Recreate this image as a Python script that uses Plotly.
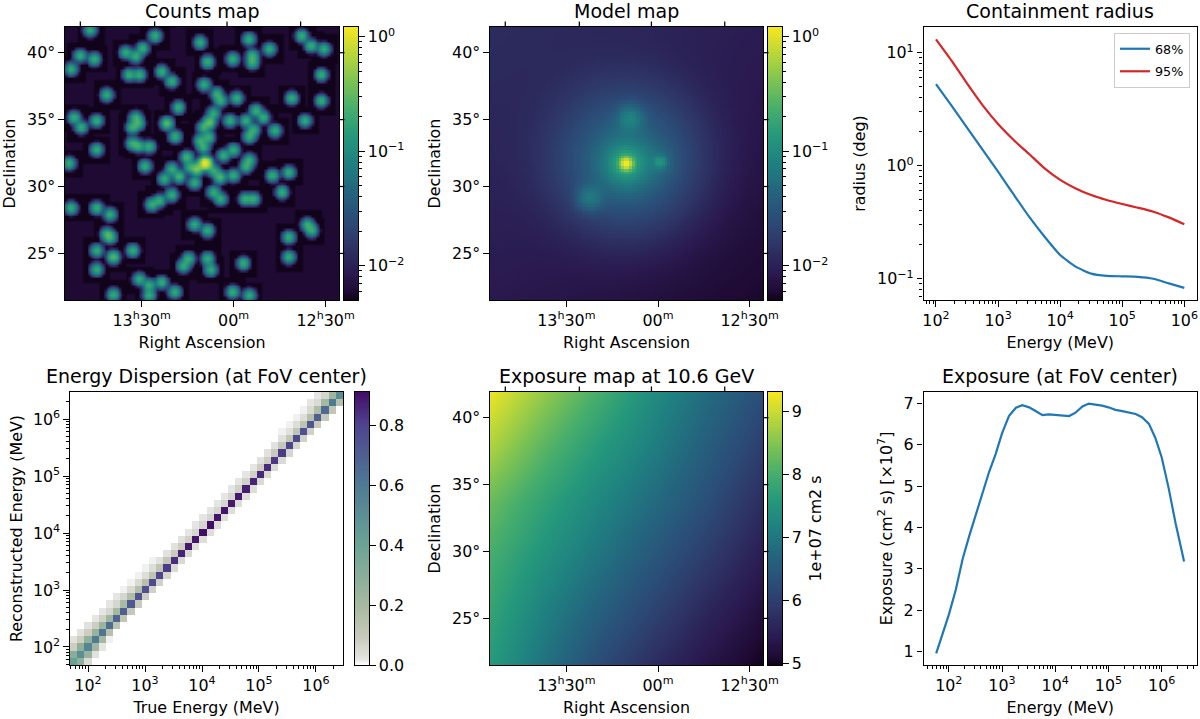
import numpy as np
import plotly.graph_objects as go

# ---------- data ----------
# counts map: source positions (RA deg, Dec deg) and peak counts
SRC_RA = [206.74,201.44,197.77,193.78,189.48,188.72,187.66,192.12,207.55,206.39,208.29,203.83,203.02,202.45,197.17,195.11,
193.51,193.51,187.88,203.56,202.72,200.90,200.08,197.45,205.38,196.41,196.09,194.78,190.30,187.88,199.54,208.04,207.47,206.20,
203.02,202.80,203.29,200.49,196.68,197.01,197.50,195.33,194.02,193.21,192.61,189.21,191.66,193.42,193.75,199.81,
203.29,202.80,201.93,206.20,197.09,197.77,197.50,195.05,195.87,208.45,202.26,198.86,197.36,198.04,198.59,
200.08,199.48,200.68,198.23,196.68,196.14,195.05,193.75,194.02,191.87,190.54,191.09,196.68,196.09,194.10,193.42,
200.08,201.09,201.71,208.29,206.20,205.11,198.23,197.17,205.38,205.11,189.02,188.67,190.54,206.20,203.26,204.84,190.54,
198.72,199.13,197.17,196.90,194.24,206.20,202.74,201.93,201.93,200.90,199.84,204.84,195.11,193.75]
SRC_DEC = [41.72,41.29,40.80,41.04,41.29,40.55,40.30,40.30,39.80,39.55,38.81,40.05,39.75,40.35,39.35,39.55,
39.80,39.30,38.38,38.38,38.38,38.63,37.89,37.64,36.87,36.94,36.44,36.64,36.64,36.44,35.95,35.20,34.45,34.95,
35.20,34.75,34.45,34.75,35.50,34.83,34.45,34.95,34.95,35.70,35.20,34.95,34.20,34.25,33.76,33.76,
33.26,33.06,33.01,32.79,33.71,33.46,32.96,32.76,32.34,31.77,31.54,32.21,31.77,31.34,31.47,
31.34,30.77,30.60,30.30,31.22,30.72,30.85,32.01,31.52,30.85,31.09,29.60,29.60,29.10,29.10,29.10,
29.40,28.98,28.68,28.43,28.43,27.94,27.19,26.74,26.49,26.24,27.19,26.74,26.24,25.25,25.25,24.75,24.75,
24.63,24.08,24.63,23.81,24.30,23.83,23.11,22.64,21.89,22.86,22.14,21.94,22.14,21.89]
SRC_AMP = [.2]*len(SRC_RA)
SRC_BRIGHT = {(200.49,34.75):.30,(197.01,34.83):.32,(198.86,32.21):.24,(197.36,31.77):1.15,(198.04,31.34):.40,
              (198.59,31.47):.18,(199.48,30.77):.24,(196.14,30.72):.27,(204.84,24.75):.28}
# model map: (RA, Dec, peak, width deg)
MODEL_RA = [197.61,197.61,197.61,197.28,194.84,194.84,200.60,197.50]
MODEL_DEC = [31.72,31.72,31.72,35.10,31.84,31.84,29.18,32.00]
MODEL_AMP = [1.15,.14,.06,.05,.065,.012,.04,.035]
MODEL_WID = [.26,.60,1.30,.62,.30,.80,.62,3.2]
MODEL_BG = [[.0125,.0090],[.0085,.0056]]  # [top-left, top-right],[bottom-left, bottom-right]

RA_TICKS = [202.5,195.0,187.5]
RA_LABELS = ["13<sup>h</sup>30<sup>m</sup>","00<sup>m</sup>","12<sup>h</sup>30<sup>m</sup>"]
RA_TOP = [207.5,201.44,195.54,189.54]
DEC_TICKS = [25,30,35,40]
DEC_LABELS = ["25°","30°","35°","40°"]
RA_RANGE = [208.75,186.41]
DEC_RANGE = [21.52,41.92]

# containment radius
E_PSF = [100,178,316,562,1000,1780,3160,5620,1e4,1.78e4,3.16e4,5.62e4,1e5,1.78e5,3.16e5,5.62e5,1e6]
R68 = [5.28,3.40,2.17,1.39,.885,.557,.354,.235,.162,.128,.111,.106,.105,.104,.100,.091,.083]
R95 = [13.1,8.5,5.35,3.44,2.34,1.69,1.27,.947,.75,.63,.55,.497,.458,.425,.392,.349,.303]

# energy dispersion, per true-energy bin
ED_DIAG = [.42,.50,.55,.60,.62,.65,.68,.70,.72,.74,.76,.78,.80,.82,.85,.87,.89,.90,.91,.91,.90,.90,.89,.89,.88,.87,.86,.85,.83,.82,.80,.78,.76,.73,.70,.66,.60,.50]
ED_UP1 = [.30,.28,.27,.25,.24,.22,.20,.19,.17,.16,.15,.13,.12,.11,.09,.08,.07,.06,.06,.06,.06,.06,.06,.07,.07,.07,.08,.08,.09,.10,.11,.12,.13,.15,.17,.20,.22]
ED_UP2 = [.08,.08,.08,.08,.07,.06,.06,.06,.05,.05,.04,.04,.03,.03,.03,.03,.02,.02,.02,.02,.02,.02,.02,.02,.02,.02,.03,.03,.03,.03,.03,.04,.04,.05,.05,.06]
ED_UP3 = [.03,.03,.03,.02,.02,.02,.02,.01,.01,.01,.01,.01,0,0,0,0,0,0,0,0,0,0,0,0,0,0,0,0,0,.01,.01,.01,.01,.02,.02]
ED_LO1 = [.28,.25,.22,.20,.15,.13,.12,.10,.09,.08,.07,.07,.06,.05,.05,.05,.04,.04,.04,.04,.04,.04,.04,.04,.04,.05,.05,.05,.05,.06,.06,.07,.07,.09,.10,.12,.15]
ED_LO2 = [.05,.03,.02,.01]
ED_EDGES_LOG = (1.684,6.474)

# exposure map (1e7 cm2 s), rows top to bottom, columns left to right
EXPO = [[9.25,8.60,8.00,7.35,6.80,6.30],
        [8.80,8.15,7.60,7.10,6.55,6.00],
        [8.30,7.75,7.25,6.80,6.30,5.70],
        [8.00,7.45,6.95,6.45,5.95,5.45],
        [7.80,7.15,6.60,6.10,5.60,5.20],
        [7.60,6.90,6.25,5.70,5.30,4.98]]

# exposure curve
E_EXP = [58,76,100,135,182,240,324,427,575,759,1000,1349,1820,2400,3236,4266,5754,7586,1e4,13490,18200,24000,32360,42660,57540,75860,1e5,134900,182000,240000,323600,426600,575400,758600,1e6,1349000,1820000,2630000]
EXP_VAL = [.96,1.40,1.89,2.49,3.24,3.78,4.31,4.79,5.35,5.77,6.27,6.69,6.89,6.95,6.90,6.81,6.71,6.73,6.72,6.70,6.69,6.77,6.92,6.99,6.97,6.94,6.90,6.84,6.81,6.78,6.74,6.66,6.50,6.16,5.69,4.95,4.10,3.18]

VIR = [[0,"#10031a"],[.03,"#1e0a33"],[.1,"#2a1a50"],[.2,"#2e3566"],[.3,"#2b4d78"],[.4,"#24657e"],[.5,"#1f8080"],[.6,"#25987c"],[.7,"#46ad6c"],[.8,"#7cc253"],[.9,"#b8d63a"],[1,"#f7e71f"]]
EDC = [[0,"#ffffff"],[.02,"#e6e6e4"],[.1,"#c9cabb"],[.22,"#a6b89f"],[.44,"#6aa495"],[.66,"#4e7a94"],[.88,"#4f4390"],[1,"#430c66"]]
BLUE = "#1f77b4"; RED = "#d62728"

W, H = 1200, 719
FS = 15.9
LOG_MIN, LOG_MAX = -2.30, 0.085

# ---------- maps ----------
nb = 102
ra = np.linspace(RA_RANGE[1], RA_RANGE[0], nb)
dec = np.linspace(DEC_RANGE[0], DEC_RANGE[1], nb)
RA, DEC = np.meshgrid(ra, dec)
RSC = 0.916

cnt = np.zeros_like(RA)
mask = np.zeros_like(RA, dtype=bool)
for r, d, a in zip(SRC_RA, SRC_DEC, SRC_AMP):
    a = SRC_BRIGHT.get((r, d), a)
    dr = (RA - r) * RSC; dd = DEC - d
    cnt += a * np.exp(-(dr**2 + dd**2) / (2 * 0.255**2))
    mask |= (np.abs(dr) < 1.03) & (np.abs(dd) < 1.03)
floor = np.where(mask, 10**LOG_MIN, 10**(LOG_MIN + 0.07))
counts_log = np.log10(np.maximum(cnt + 1e-9, floor))

u = (RA - RA_RANGE[1]) / (RA_RANGE[0] - RA_RANGE[1])  # 1 at left
v = (DEC - DEC_RANGE[0]) / (DEC_RANGE[1] - DEC_RANGE[0])  # 1 at top
bg = (MODEL_BG[0][0] * u * v + MODEL_BG[0][1] * (1 - u) * v
      + MODEL_BG[1][0] * u * (1 - v) + MODEL_BG[1][1] * (1 - u) * (1 - v))
mod = bg.copy()
for r, d, a, s in zip(MODEL_RA, MODEL_DEC, MODEL_AMP, MODEL_WID):
    mod += a * np.exp(-(((RA - r) * RSC)**2 + (DEC - d)**2) / (2 * s**2))
model_log = np.log10(mod)

# energy dispersion matrix
n = len(ED_DIAG)
ed = np.zeros((n, n))
for i, val in enumerate(ED_DIAG): ed[i, i] = val
for off, lst in ((1, ED_UP1), (2, ED_UP2), (3, ED_UP3)):
    for i, val in enumerate(lst):
        if i + off < n: ed[i + off, i] = val
for off, lst in ((1, ED_LO1), (2, ED_LO2)):
    for i, val in enumerate(lst):
        if i + off < n: ed[i, i + off] = val
ed_edges = np.logspace(ED_EDGES_LOG[0], ED_EDGES_LOG[1], n + 1)

expo_x = np.linspace(RA_RANGE[0], RA_RANGE[1], 6)
expo_y = np.linspace(DEC_RANGE[1], DEC_RANGE[0], 6)

# ---------- layout helpers ----------
def dom(x0, x1, y0, y1):
    return [x0 / W, x1 / W], [1 - y1 / H, 1 - y0 / H]

base = dict(showgrid=False, zeroline=False, showline=True, linecolor="black", linewidth=1.25,
            ticks="outside", ticklen=5.5, tickwidth=1.25, tickcolor="black", automargin=False,
            tickfont=dict(size=FS, color="black"))
layout = dict(width=W, height=H, autosize=False, margin=dict(l=0, r=0, t=0, b=0, autoexpand=False),
              paper_bgcolor="white", plot_bgcolor="white",
              font=dict(family="DejaVu Sans", size=FS, color="black"),
              showlegend=True, annotations=[], shapes=[],
              legend=dict(x=1190 / W, xanchor="right", y=1 - 33 / H, yanchor="top", bgcolor="rgba(255,255,255,0.8)",
                          bordercolor="#cccccc", borderwidth=1, font=dict(size=12.7), tracegroupgap=3,
                          traceorder="grouped", itemwidth=30))
fig = go.Figure()

def setax(k, px, xa, ya):
    dx, dy = dom(*px)
    layout[f"xaxis{k}"] = {**base, "domain": dx, "anchor": f"y{k}", "mirror": True, **xa}
    layout[f"yaxis{k}"] = {**base, "domain": dy, "anchor": f"x{k}", "mirror": True, **ya}

def title(text, px):
    layout["annotations"].append(dict(text=text, x=(px[0] + px[1]) / 2 / W, y=1 - px[2] / H, xref="paper", yref="paper",
                                      xanchor="center", yanchor="bottom", showarrow=False, yshift=3,
                                      font=dict(size=19, color="black")))

def log_minor(lo, hi):
    out = []
    for d in range(int(np.floor(lo)), int(np.ceil(hi)) + 1):
        for m in range(2, 10):
            val = m * 10.0**d
            if lo <= np.log10(val) <= hi: out.append(val)
    return out

def dec_ticks(d0, d1):
    return [10.0**d for d in range(d0, d1 + 1)], [f"10<sup>{str(d).replace('-', '−')}</sup>" for d in range(d0, d1 + 1)]

def log_axis(lo, hi, d0, d1, ttl, standoff):
    tv, tt = dec_ticks(d0, d1)
    return dict(type="log", range=[lo, hi], tickmode="array", tickvals=tv, ticktext=tt,
                minor=dict(ticks="outside", ticklen=3.2, tickwidth=.9, tickcolor="black", tickmode="array", tickvals=log_minor(lo, hi)),
                title=dict(text=ttl, standoff=standoff, font=dict(size=FS)))

def sky_axes(k, px):
    setax(k, px,
          dict(range=RA_RANGE, tickmode="array", tickvals=RA_TICKS, ticktext=RA_LABELS,
               title=dict(text="Right Ascension", standoff=8, font=dict(size=FS))),
          dict(range=DEC_RANGE, tickmode="array", tickvals=DEC_TICKS, ticktext=DEC_LABELS,
               title=dict(text="Declination", standoff=7, font=dict(size=FS))))
    # the sky grid meets the top edge at other RA positions; the right edge carries the Dec ticks too
    tick = dict(type="line", line=dict(color="black", width=1.25), layer="above", xref="paper", yref="paper")
    for rv in RA_TOP:
        xf = (px[0] + (RA_RANGE[0] - rv) / (RA_RANGE[0] - RA_RANGE[1]) * (px[1] - px[0])) / W
        layout["shapes"].append(dict(tick, x0=xf, x1=xf, y0=1 - px[2] / H, y1=1 - (px[2] - 5.5) / H))
    for dv in DEC_TICKS:
        yf = 1 - (px[3] - (dv - DEC_RANGE[0]) / (DEC_RANGE[1] - DEC_RANGE[0]) * (px[3] - px[2])) / H
        layout["shapes"].append(dict(tick, y0=yf, y1=yf, x0=px[1] / W, x1=(px[1] + 5.5) / W))

def cbar(k, px, lo, hi, cs, tickvals, ticktext, minor=None, ttl=None):
    ys = np.linspace(lo, hi, 256)
    fig.add_trace(go.Heatmap(x=[0, 1], y=ys, z=np.column_stack([ys, ys]), colorscale=cs, zmin=lo, zmax=hi, showscale=False,
                             xaxis=f"x{k}", yaxis=f"y{k}", hoverinfo="skip"))
    ya = dict(range=[lo, hi], side="right", tickmode="array", tickvals=tickvals, ticktext=ticktext)
    if minor:
        ya["minor"] = dict(ticks="outside", ticklen=3.2, tickwidth=.9, tickcolor="black", tickmode="array", tickvals=minor)
    if ttl:
        ya["title"] = dict(text=ttl, standoff=8, font=dict(size=FS))
    setax(k, px, dict(range=[0, 1], ticks="", showticklabels=False), ya)

log_cb_ticks = [-2, -1, 0]
log_cb_text = ["10<sup>−2</sup>", "10<sup>−1</sup>", "10<sup>0</sup>"]
log_cb_minor = [float(np.log10(m * 10.0**d)) for d in (-3, -2, -1) for m in range(2, 10)
                if LOG_MIN <= np.log10(m * 10.0**d) <= LOG_MAX]

P1 = (65, 339, 27, 300); C1 = (344, 358, 27, 300)
P2 = (490, 763, 27, 300); C2 = (768, 782, 27, 300)
P3 = (923.5, 1197, 27, 300)
P4 = (70, 343, 392, 665); C4 = (355, 369, 392, 665)
P5 = (490, 763, 392, 665); C5 = (768, 782, 392, 665)
P6 = (923.5, 1197, 392, 665)

# counts
fig.add_trace(go.Heatmap(x=ra, y=dec, z=counts_log, colorscale=VIR, zmin=LOG_MIN, zmax=LOG_MAX, showscale=False,
                         zsmooth="best", xaxis="x1", yaxis="y1", hoverinfo="skip"))
sky_axes(1, P1); cbar(2, C1, LOG_MIN, LOG_MAX, VIR, log_cb_ticks, log_cb_text, log_cb_minor); title("Counts map", P1)
# model
fig.add_trace(go.Heatmap(x=ra, y=dec, z=model_log, colorscale=VIR, zmin=LOG_MIN, zmax=LOG_MAX, showscale=False,
                         xaxis="x3", yaxis="y3", hoverinfo="skip"))
sky_axes(3, P2); cbar(4, C2, LOG_MIN, LOG_MAX, VIR, log_cb_ticks, log_cb_text, log_cb_minor); title("Model map", P2)
# containment
fig.add_trace(go.Scatter(x=E_PSF, y=R68, mode="lines", name="68%", legendgroup="a", line=dict(color=BLUE, width=2.2, shape="spline", smoothing=.5), xaxis="x5", yaxis="y5"))
fig.add_trace(go.Scatter(x=E_PSF, y=R95, mode="lines", name="95%", legendgroup="b", line=dict(color=RED, width=2.2, shape="spline", smoothing=.5), xaxis="x5", yaxis="y5"))
setax(5, P3, log_axis(1.799, 6.204, 2, 6, "Energy (MeV)", 8), log_axis(-1.188, 1.227, -1, 1, "radius (deg)", 7))
title("Containment radius", P3)
# energy dispersion
fig.add_trace(go.Heatmap(x=ed_edges, y=ed_edges, z=ed, colorscale=EDC, zmin=0, zmax=.913, showscale=False,
                         xaxis="x6", yaxis="y6", hoverinfo="skip"))
setax(6, P4, log_axis(ED_EDGES_LOG[0], ED_EDGES_LOG[1], 2, 6, "True Energy (MeV)", 8),
      log_axis(ED_EDGES_LOG[0], ED_EDGES_LOG[1], 2, 6, "Reconstructed Energy (MeV)", 6))
cbar(7, C4, 0, .913, EDC, [0, .2, .4, .6, .8], ["0.0", "0.2", "0.4", "0.6", "0.8"]); title("Energy Dispersion (at FoV center)", P4)
# exposure map
fig.add_trace(go.Heatmap(x=expo_x, y=expo_y, z=EXPO, colorscale=VIR, zmin=4.98, zmax=9.31, showscale=False, zsmooth="best",
                         xaxis="x8", yaxis="y8", hoverinfo="skip"))
sky_axes(8, P5); cbar(9, C5, 4.98, 9.31, VIR, [5, 6, 7, 8, 9], ["5", "6", "7", "8", "9"], ttl="1e+07 cm2 s"); title("Exposure map at 10.6 GeV", P5)
# exposure curve
fig.add_trace(go.Scatter(x=E_EXP, y=EXP_VAL, mode="lines", showlegend=False, line=dict(color=BLUE, width=2.2), xaxis="x10", yaxis="y10"))
setax(10, P6, log_axis(1.525, 6.6625, 2, 6, "Energy (MeV)", 8),
      dict(range=[.68, 7.27], tickmode="array", tickvals=[1, 2, 3, 4, 5, 6, 7], ticktext=list("1234567"),
           title=dict(text="Exposure (cm<sup>2</sup> s) [×10<sup>7</sup>]", standoff=7, font=dict(size=FS))))
title("Exposure (at FoV center)", P6)

fig.update_layout(**layout)
fig.write_html("out.html", config=dict(displayModeBar=False),
               post_script="document.body.style.margin='0';document.body.style.overflow='hidden';")
